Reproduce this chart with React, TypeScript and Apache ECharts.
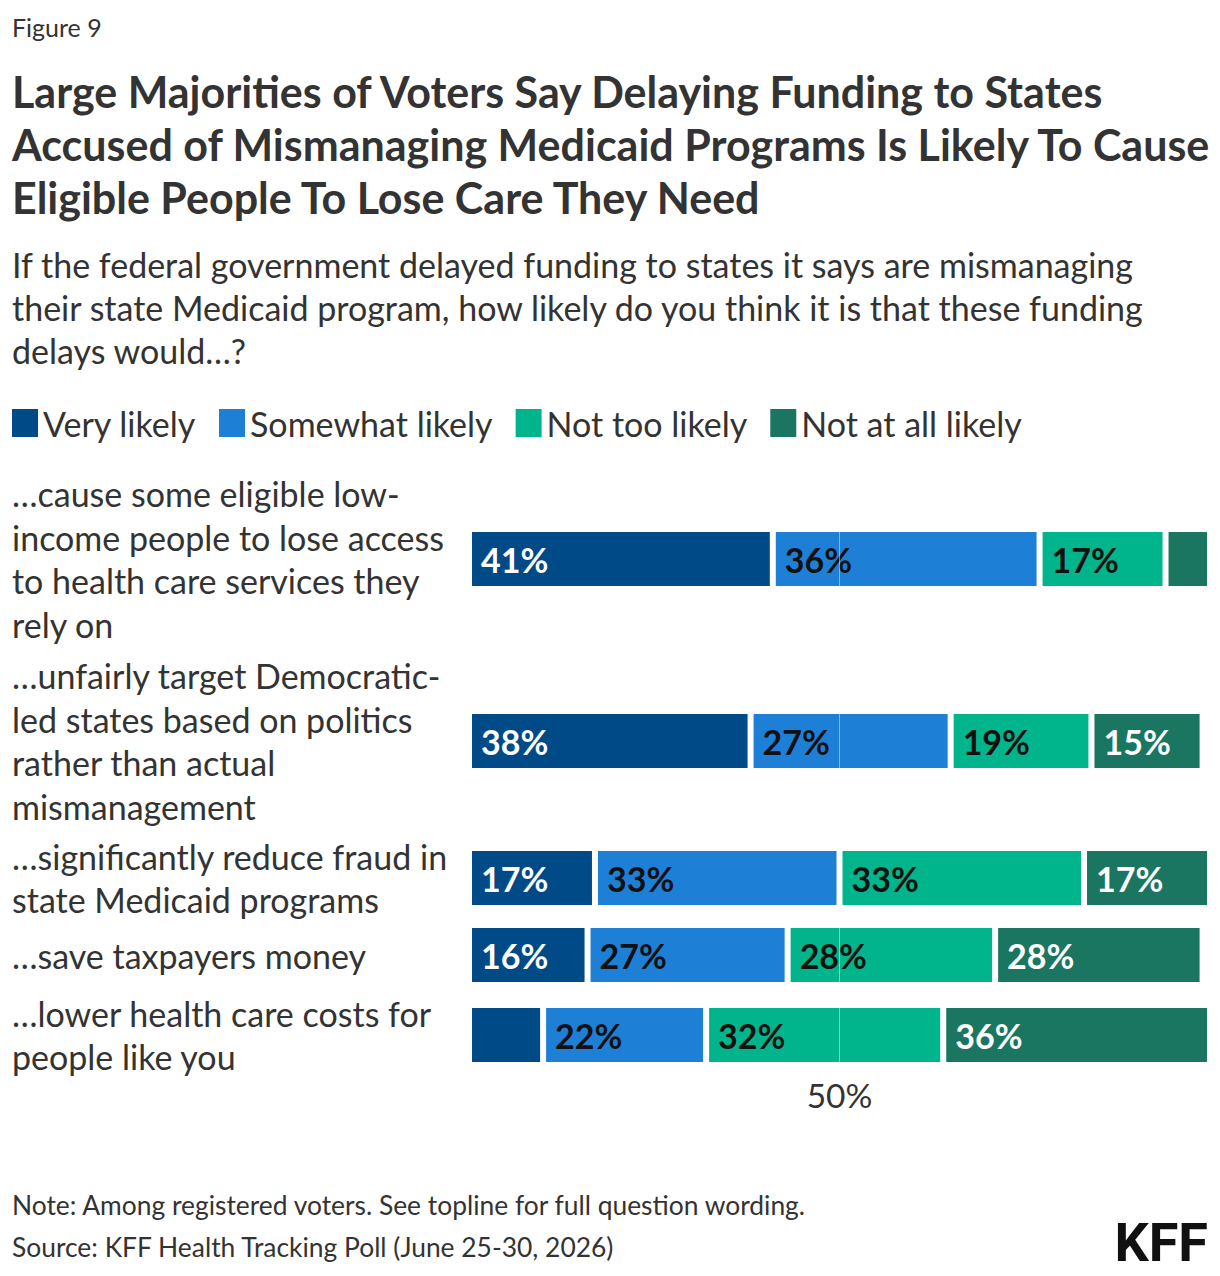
import React, { useEffect, useRef } from "react";
import * as echarts from "echarts";

// Survey items (one row each)
const categories = [
  "…cause some eligible low-\nincome people to lose access\nto health care services they\nrely on",
  "…unfairly target Democratic-\nled states based on politics\nrather than actual\nmismanagement",
  "…significantly reduce fraud in\nstate Medicaid programs",
  "…save taxpayers money",
  "…lower health care costs for\npeople like you",
];

const seriesNames = ["Very likely", "Somewhat likely", "Not too likely", "Not at all likely"];

// Shares (%) per response, in row order
const veryLikely = [41, 38, 17, 16, 10];
const somewhatLikely = [36, 27, 33, 27, 22];
const notTooLikely = [17, 19, 33, 28, 32];
const notAtAllLikely = [6, 15, 17, 28, 36];

const xTickLabels = ["50%"];

const seriesValues = [veryLikely, somewhatLikely, notTooLikely, notAtAllLikely];

// Styling and layout
const FONT = "Lato";
const TEXT = "#333333";
const COLORS = ["#004a87", "#1d80d6", "#00b58b", "#1b7661"];
const LABEL_COLORS = ["#ffffff", "#111111", "#111111", "#ffffff"];
const ROW_CENTERS = [559, 741, 878, 955, 1035];
const PLOT_LEFT = 469;
const PLOT_WIDTH = 741;
const BAR_BAND = 60;

export default function App() {
  const ref = useRef<HTMLDivElement>(null);

  useEffect(() => {
    if (!ref.current) return;
    const chart = echarts.init(ref.current, undefined, { renderer: "svg" });

    const grids = categories.map((_, i) => ({
      left: PLOT_LEFT,
      width: PLOT_WIDTH,
      top: ROW_CENTERS[i] - BAR_BAND / 2,
      height: BAR_BAND,
    }));

    const xAxes = categories.map((_, i) => ({
      gridIndex: i,
      type: "value",
      min: 0,
      max: 100,
      interval: 50,
      z: 5,
      axisLine: { show: false },
      axisTick: { show: false },
      splitLine: {
        show: true,
        showMinLine: false,
        showMaxLine: false,
        lineStyle: { color: "rgba(255,255,255,0.45)", width: 1 },
      },
      axisLabel: {
        show: i === categories.length - 1,
        formatter: (v: number) => (v === 50 ? xTickLabels[0] : ""),
        margin: 13,
        fontSize: 33.5,
        color: TEXT,
        fontFamily: FONT,
      },
    }));

    const yAxes = categories.map((c, i) => ({
      gridIndex: i,
      type: "category",
      data: [c],
      axisLine: { show: false },
      axisTick: { show: false },
      axisLabel: {
        margin: PLOT_LEFT - 12,
        align: "left",
        fontSize: 34,
        lineHeight: 43.5,
        color: TEXT,
        fontFamily: FONT,
      },
    }));

    const series: any[] = [];
    categories.forEach((_, i) => {
      seriesValues.forEach((vals, s) => {
        series.push({
          name: seriesNames[s],
          type: "bar",
          xAxisIndex: i,
          yAxisIndex: i,
          stack: "row" + i,
          barWidth: BAR_BAND,
          data: [vals[i]],
          itemStyle: { color: COLORS[s], borderColor: "#ffffff", borderWidth: 3 },
          label: {
            show: true,
            position: "insideLeft",
            distance: 12,
            formatter: (p: any) => (p.value >= 12 ? p.value + "%" : ""),
            fontSize: 34,
            fontWeight: "bold",
            fontFamily: FONT,
            color: LABEL_COLORS[s],
          },
        });
      });
    });

    chart.setOption({
      animation: false,
      backgroundColor: "#ffffff",
      textStyle: { fontFamily: FONT },
      title: [
        {
          text: "Figure 9",
          left: 12,
          top: 16,
          padding: 0,
          textStyle: { fontSize: 25, fontWeight: "normal", color: TEXT, lineHeight: 22, fontFamily: FONT },
        },
        {
          text:
            "Large Majorities of Voters Say Delaying Funding to States\nAccused of Mismanaging Medicaid Programs Is Likely To Cause\nEligible People To Lose Care They Need",
          left: 12,
          top: 65,
          padding: 0,
          textStyle: { fontSize: 43, fontWeight: "bold", color: TEXT, lineHeight: 53, fontFamily: FONT },
        },
        {
          text:
            "If the federal government delayed funding to states it says are mismanaging\ntheir state Medicaid program, how likely do you think it is that these funding\ndelays would…?",
          left: 12,
          top: 243,
          padding: 0,
          textStyle: { fontSize: 34, fontWeight: "normal", color: TEXT, lineHeight: 43, fontFamily: FONT },
        },
        {
          text:
            "Note: Among registered voters. See topline for full question wording.\nSource: KFF Health Tracking Poll (June 25-30, 2026)",
          left: 12,
          top: 1184,
          padding: 0,
          textStyle: { fontSize: 26.4, fontWeight: "normal", color: TEXT, lineHeight: 42, fontFamily: FONT },
        },
      ],
      legend: {
        data: seriesNames,
        left: 12,
        top: 406,
        padding: 0,
        icon: "rect",
        itemWidth: 26,
        itemHeight: 28,
        itemGap: 23,
        selectedMode: false,
        itemStyle: { borderWidth: 0 },
        textStyle: { fontSize: 34, color: TEXT, fontFamily: FONT },
      },
      graphic: [
        {
          type: "text",
          right: 12,
          top: 1215,
          style: { text: "KFF", font: "bold 54px Roboto", fill: "#111111" },
        },
      ],
      grid: grids,
      xAxis: xAxes,
      yAxis: yAxes,
      series,
    });

    return () => chart.dispose();
  }, []);

  return (
    <div
      ref={ref}
      style={{ position: "absolute", left: 0, top: 0, width: 1220, height: 1276, background: "#fff" }}
    />
  );
}
